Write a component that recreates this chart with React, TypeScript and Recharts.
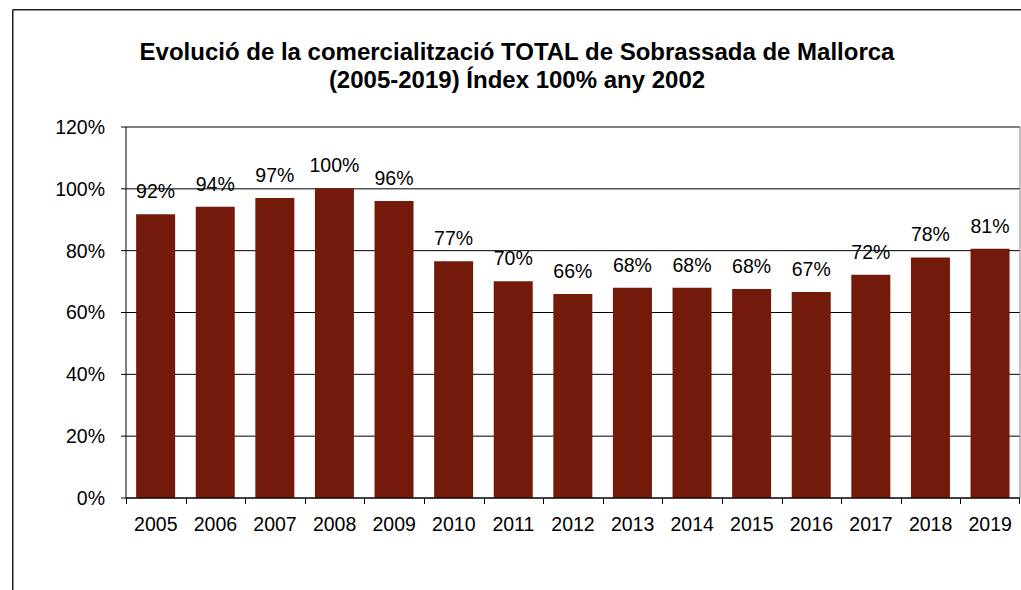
import React from "react";
import { BarChart, Bar, XAxis, YAxis, CartesianGrid, LabelList } from "recharts";

const years = ["2005", "2006", "2007", "2008", "2009", "2010", "2011", "2012", "2013", "2014", "2015", "2016", "2017", "2018", "2019"];
const indexValues = [91.8, 94.2, 97.0, 100.2, 96.1, 76.6, 70.1, 66.0, 68.0, 68.0, 67.6, 66.6, 72.2, 77.8, 80.6];
const yTicks = [0, 20, 40, 60, 80, 100, 120];
const titleLines = ["Evolució de la comercialització TOTAL de Sobrassada de Mallorca", "(2005-2019) Índex 100% any 2002"];

const data = years.map((y, i) => ({ year: y, value: indexValues[i] }));

const FONT = "'Liberation Sans', Arial, sans-serif";
const BAR = "#731A0A";
const CHART_W = 1021;
const CHART_H = 590;
const Y_AXIS_W = 126;
const RIGHT_AXIS_W = 1;
const PLOT_W = CHART_W - Y_AXIS_W - RIGHT_AXIS_W;
const X_TICK_MARGIN = 19;
const X_TICK_LEN = 6;

const YearTick = (props: any) => {
  const { x, y, payload, index } = props;
  const count = years.length;
  const band = PLOT_W / count;
  const axisY = Number(y) - X_TICK_MARGIN;
  const left = Math.round(Number(x) - band / 2) + 0.5;
  const right = Math.round(Number(x) + band / 2) - 0.5;
  return (
    <g>
      <path d={`M${left},${axisY}V${axisY + X_TICK_LEN}`} stroke="#000" strokeWidth={1} />
      {index === count - 1 && (
        <path d={`M${right},${axisY}V${axisY + X_TICK_LEN}`} stroke="#000" strokeWidth={1} />
      )}
      <text x={x} y={y} dy="0.71em" textAnchor="middle" fill="#000" fontSize={19.5} fontFamily={FONT}>
        {payload.value}
      </text>
    </g>
  );
};

export default function App() {
  return (
    <div style={{ position: "fixed", left: 0, top: 0, width: CHART_W, height: CHART_H, overflow: "hidden", background: "#fff" }}>
      <BarChart
        width={CHART_W}
        height={CHART_H}
        data={data}
        margin={{ top: 127, right: 0, bottom: 62, left: 0 }}
        barCategoryGap="17%"
      >
        <CartesianGrid vertical={false} stroke="#000" strokeWidth={1} />
        <XAxis
          dataKey="year"
          height={30}
          interval={0}
          tickLine={false}
          tickSize={0}
          tickMargin={X_TICK_MARGIN}
          axisLine={{ stroke: "#000" }}
          tick={<YearTick />}
        />
        <YAxis
          domain={[0, 120]}
          ticks={yTicks}
          width={Y_AXIS_W}
          tickSize={5}
          tickMargin={16}
          interval={0}
          axisLine={{ stroke: "#000" }}
          tickLine={{ stroke: "#000" }}
          tickFormatter={(v: number) => `${v}%`}
          tick={{ fill: "#000", fontSize: 19.5, fontFamily: FONT }}
        />
        <YAxis
          yAxisId="right"
          orientation="right"
          domain={[0, 120]}
          width={RIGHT_AXIS_W}
          tick={false}
          tickLine={false}
          axisLine={{ stroke: "#808080" }}
        />
        <Bar dataKey="value" fill={BAR} isAnimationActive={false}>
          <LabelList
            dataKey="value"
            position="top"
            offset={16}
            formatter={(v: number) => `${Math.round(v)}%`}
            style={{ fill: "#000", fontSize: 19.5, fontFamily: FONT }}
          />
        </Bar>
      </BarChart>
      <svg
        width={CHART_W}
        height={CHART_H}
        style={{ position: "absolute", left: 0, top: 0, pointerEvents: "none" }}
      >
        <line x1={12.75} y1={9.75} x2={CHART_W} y2={9.75} stroke="#222" strokeWidth={1.5} />
        <line x1={12.75} y1={9.75} x2={12.75} y2={CHART_H} stroke="#222" strokeWidth={1.5} />
        <text x={517} y={60} textAnchor="middle" fontFamily={FONT} fontWeight="bold" fontSize={24} fill="#000">
          {titleLines[0]}
        </text>
        <text x={517} y={88} textAnchor="middle" fontFamily={FONT} fontWeight="bold" fontSize={24} fill="#000">
          {titleLines[1]}
        </text>
      </svg>
    </div>
  );
}
